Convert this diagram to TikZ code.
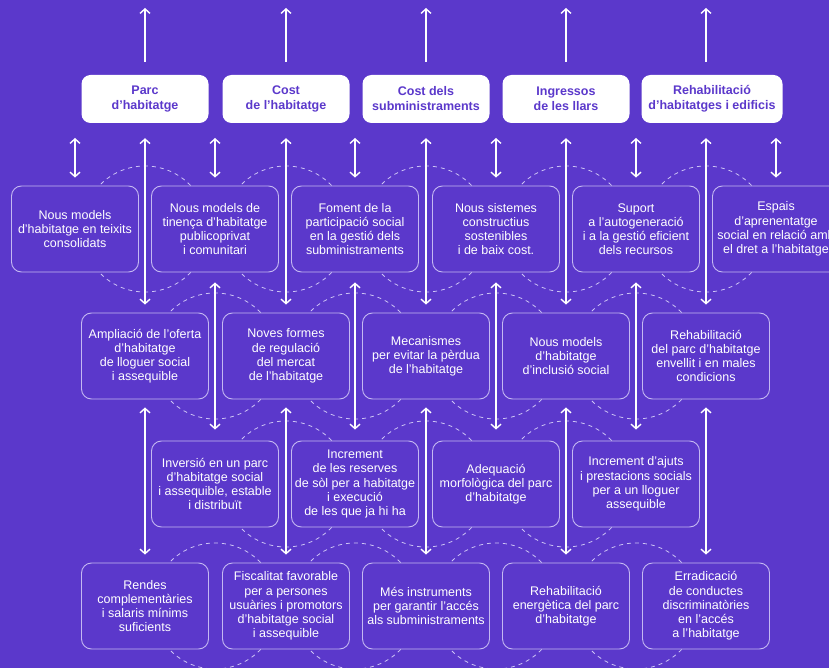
\documentclass[tikz,border=0pt]{standalone}
\usepackage{fontspec}
\setmainfont{Liberation Sans}
\usetikzlibrary{arrows.meta}
\definecolor{HabPurple}{RGB}{91,56,203}
\definecolor{HabEdge}{RGB}{196,184,242}
\definecolor{HabDash}{RGB}{205,196,245}
\tikzset{
  topbox/.style={fill=white,rounded corners=9pt,minimum width=127pt,minimum height=48pt,
    inner sep=0pt,align=center,text=HabPurple,font=\fontsize{12.5}{15}\selectfont\bfseries},
  goalbox/.style={draw=HabEdge,line width=0.9pt,fill=HabPurple,rounded corners=10pt,
    minimum width=127pt,minimum height=86pt,inner sep=0pt,align=center,text=white,
    font=\fontsize{12.5}{14.2}\selectfont},
  ring/.style={HabDash,line width=0.8pt,dash pattern=on 4pt off 4pt},
  link/.style={white,line width=1.4pt}
}

\begin{document}
\begin{tikzpicture}[x=1pt,y=-1pt,>={Straight Barb[length=4.5pt,width=10pt]}]
  \useasboundingbox (0,0) rectangle (829,668);
  \clip (0,0) rectangle (829,668);
  \fill[HabPurple] (0,0) rectangle (829,668);
  % dashed rings behind the boxes
  \foreach \x in {145,286,426,566,706} \draw[ring] (\x,229) circle[radius=63pt];
  \foreach \x in {215,355,496,636} \draw[ring] (\x,356) circle[radius=63pt];
  \foreach \x in {286,426,566} \draw[ring] (\x,484) circle[radius=63pt];
  \foreach \x in {215,355,496,636} \draw[ring] (\x,606) circle[radius=63pt];

  % headings
  \node[topbox] (t1) at (145,99) {Parc\\d’habitatge};
  \node[topbox] (t2) at (286,99) {Cost\\de l’habitatge};
  \node[topbox] (t3) at (426,99) {Cost dels\\subministraments};
  \node[topbox] (t4) at (566,99) {Ingressos\\de les llars};
  \node[topbox,minimum width=141pt] (t5) at (712,99) {Rehabilitació\\d’habitatges i edificis};

  % row 2
  \node[goalbox] (b1) at (75,229) {Nous models\\d’habitatge en teixits\\consolidats};
  \node[goalbox] (b2) at (215,229) {Nous models de\\tinença d’habitatge\\publicoprivat\\i comunitari};
  \node[goalbox] (b3) at (355,229) {Foment de la\\participació social\\en la gestió dels\\subministraments};
  \node[goalbox] (b4) at (496,229) {Nous sistemes\\constructius\\sostenibles\\i de baix cost.};
  \node[goalbox] (b5) at (636,229) {Suport\\a l’autogeneració\\i a la gestió eficient\\dels recursos};
  \node[goalbox] (b6) at (776,229) {Espais\\d’aprenentatge\\social en relació amb\\el dret a l’habitatge};

  % row 3
  \node[goalbox] (c1) at (145,356) {Ampliació de l’oferta\\d’habitatge\\de lloguer social\\i assequible};
  \node[goalbox] (c2) at (286,356) {Noves formes\\de regulació\\del mercat\\de l’habitatge};
  \node[goalbox] (c3) at (426,356) {Mecanismes\\per evitar la pèrdua\\de l’habitatge};
  \node[goalbox] (c4) at (566,356) {Nous models\\d’habitatge\\d’inclusió social};
  \node[goalbox] (c5) at (706,356) {Rehabilitació\\del parc d’habitatge\\envellit i en males\\condicions};

  % row 4
  \node[goalbox] (d1) at (215,484) {Inversió en un parc\\d’habitatge social\\i assequible, estable\\i distribuït};
  \node[goalbox] (d2) at (355,484) {Increment\\de les reserves\\de sòl per a habitatge\\i execució\\de les que ja hi ha};
  \node[goalbox] (d3) at (496,484) {Adequació\\morfològica del parc\\d’habitatge};
  \node[goalbox] (d4) at (636,484) {Increment d’ajuts\\i prestacions socials\\per a un lloguer\\assequible};

  % row 5
  \node[goalbox] (e1) at (145,606) {Rendes\\complementàries\\i salaris mínims\\suficients};
  \node[goalbox] (e2) at (286,606) {Fiscalitat favorable\\per a persones\\usuàries i promotors\\d’habitatge social\\i assequible};
  \node[goalbox] (e3) at (426,606) {Més instruments\\per garantir l’accés\\als subministraments};
  \node[goalbox] (e4) at (566,606) {Rehabilitació\\energètica del parc\\d’habitatge};
  \node[goalbox] (e5) at (706,606) {Erradicació\\de conductes\\discriminatòries\\en l’accés\\a l’habitatge};

  % free ends
  \coordinate (o1) at (145,8);
  \coordinate (o2) at (286,8);
  \coordinate (o3) at (426,8);
  \coordinate (o4) at (566,8);
  \coordinate (o5) at (706,8);
  \coordinate (u1) at (75,138);
  \coordinate (u2) at (215,138);
  \coordinate (u3) at (355,138);
  \coordinate (u4) at (496,138);
  \coordinate (u5) at (636,138);
  \coordinate (u6) at (776,138);

  % arrows out of the headings
  \draw[link,->,shorten <=13pt] (t1.north) -- (o1);
  \draw[link,->,shorten <=13pt] (t2.north) -- (o2);
  \draw[link,->,shorten <=13pt] (t3.north) -- (o3);
  \draw[link,->,shorten <=13pt] (t4.north) -- (o4);
  \draw[link,->,shorten <=13pt] (o5 |- t5.north) -- (o5);

  % headings to row 3
  \draw[link,<->,shorten <=15pt,shorten >=8pt] (t1.south) -- (c1.north);
  \draw[link,<->,shorten <=15pt,shorten >=8pt] (t2.south) -- (c2.north);
  \draw[link,<->,shorten <=15pt,shorten >=8pt] (t3.south) -- (c3.north);
  \draw[link,<->,shorten <=15pt,shorten >=8pt] (t4.south) -- (c4.north);
  \draw[link,<->,shorten <=15pt,shorten >=8pt] (c5.north |- t5.south) -- (c5.north);

  % short ones into row 2
  \draw[link,<->,shorten >=8pt] (u1) -- (b1.north);
  \draw[link,<->,shorten >=8pt] (u2) -- (b2.north);
  \draw[link,<->,shorten >=8pt] (u3) -- (b3.north);
  \draw[link,<->,shorten >=8pt] (u4) -- (b4.north);
  \draw[link,<->,shorten >=8pt] (u5) -- (b5.north);
  \draw[link,<->,shorten >=8pt] (u6) -- (b6.north);

  % row 2 to row 4
  \draw[link,<->,shorten <=10pt,shorten >=11pt] (b2.south) -- (d1.north);
  \draw[link,<->,shorten <=10pt,shorten >=11pt] (b3.south) -- (d2.north);
  \draw[link,<->,shorten <=10pt,shorten >=11pt] (b4.south) -- (d3.north);
  \draw[link,<->,shorten <=10pt,shorten >=11pt] (b5.south) -- (d4.north);

  % row 3 to row 5
  \draw[link,<->,shorten <=8pt,shorten >=8pt] (c1.south) -- (e1.north);
  \draw[link,<->,shorten <=8pt,shorten >=8pt] (c2.south) -- (e2.north);
  \draw[link,<->,shorten <=8pt,shorten >=8pt] (c3.south) -- (e3.north);
  \draw[link,<->,shorten <=8pt,shorten >=8pt] (c4.south) -- (e4.north);
  \draw[link,<->,shorten <=8pt,shorten >=8pt] (c5.south) -- (e5.north);
\end{tikzpicture}
\end{document}
